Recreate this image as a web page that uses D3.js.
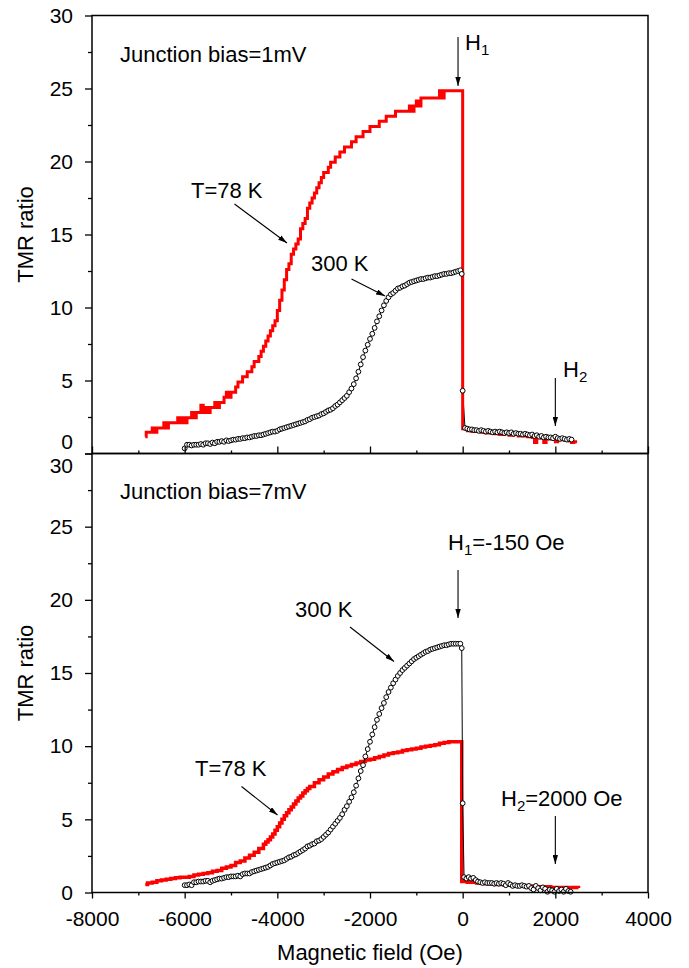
<!DOCTYPE html>
<html>
<head>
<meta charset="utf-8">
<script src="https://cdn.jsdelivr.net/npm/d3@7"></script>
<style>
  body { margin: 0; background: #fff; }
  svg { display: block; font-family: "Liberation Sans", Arial, sans-serif; }
</style>
</head>
<body>
<svg width="689" height="968"></svg>
<script>
// ---- data (field in Oe, TMR ratio) ----
var fieldTicks = [-8000, -6000, -4000, -2000, 0, 2000, 4000];
var fieldMinor = [-7000, -5000, -3000, -1000, 1000, 3000];
var tmrTicks = [0, 5, 10, 15, 20, 25, 30];
var tmrMinor = [2.5, 7.5, 12.5, 17.5, 22.5, 27.5];

// 1 mV, T = 78 K (red staircase)
var red1mV = [
  [-6850, 1.15], [-6830, 1.45], [-6750, 1.45], [-6700, 1.75], [-6650, 1.45], [-6600, 1.75],
  [-6550, 1.75], [-6500, 1.75], [-6450, 2.1], [-6400, 1.75], [-6350, 2.1], [-6300, 2.1],
  [-6250, 2.1], [-6200, 2.1], [-6150, 2.45], [-6100, 2.1], [-6050, 2.45], [-6000, 2.1],
  [-5950, 2.45], [-5900, 2.45], [-5850, 2.8], [-5800, 2.45], [-5750, 2.8], [-5700, 2.8],
  [-5650, 3.3], [-5600, 2.8], [-5550, 3.15], [-5500, 2.8], [-5450, 3.15], [-5400, 3.15],
  [-5350, 3.5], [-5300, 3.15], [-5250, 3.5], [-5200, 3.5], [-5150, 3.85], [-5100, 4.2],
  [-5050, 3.85], [-5000, 4.2], [-4950, 4.2], [-4900, 4.55], [-4850, 4.9], [-4800, 4.9],
  [-4750, 5.25], [-4700, 5.25], [-4650, 5.6], [-4600, 5.6], [-4550, 5.95], [-4500, 6.3],
  [-4450, 6.3], [-4400, 6.65], [-4350, 7.0], [-4300, 7.35], [-4250, 7.7], [-4200, 8.05],
  [-4150, 8.4], [-4100, 8.75], [-4050, 9.1], [-4000, 9.8], [-3950, 10.5], [-3900, 11.2],
  [-3850, 11.9], [-3800, 12.6], [-3750, 13.0], [-3700, 13.65], [-3650, 14.0], [-3600, 14.35],
  [-3550, 14.7], [-3500, 15.4], [-3450, 15.75], [-3400, 16.1], [-3350, 16.8], [-3300, 17.15],
  [-3250, 17.5], [-3200, 17.85], [-3150, 18.2], [-3100, 18.55], [-3050, 18.9], [-3000, 19.25],
  [-2950, 19.25], [-2900, 19.6], [-2850, 19.95], [-2800, 19.95], [-2750, 20.3], [-2700, 20.3],
  [-2650, 20.65], [-2600, 20.65], [-2550, 21.0], [-2500, 21.0], [-2450, 21.0], [-2400, 21.35],
  [-2350, 21.35], [-2300, 21.7], [-2250, 21.7], [-2200, 21.7], [-2150, 22.05], [-2100, 22.05],
  [-2050, 22.05], [-2000, 22.4], [-1950, 22.4], [-1900, 22.4], [-1850, 22.4], [-1800, 22.75],
  [-1750, 22.75], [-1700, 22.75], [-1650, 23.1], [-1600, 23.1], [-1550, 23.1], [-1500, 23.1],
  [-1450, 23.45], [-1400, 23.45], [-1350, 23.45], [-1300, 23.45], [-1250, 23.45], [-1200, 23.45],
  [-1150, 23.8], [-1100, 23.45], [-1050, 23.8], [-1000, 24.15], [-950, 23.8], [-900, 24.35],
  [-850, 24.35], [-800, 24.35], [-750, 24.35], [-700, 24.35], [-650, 24.35], [-600, 24.35],
  [-550, 24.35], [-500, 24.85], [-450, 24.35], [-400, 24.85], [-350, 24.85], [-300, 24.85],
  [-200, 24.85], [-100, 24.85], [0, 1.7], [100, 1.55], [200, 1.5], [300, 1.5], [400, 1.45],
  [500, 1.4], [600, 1.4], [700, 1.35], [800, 1.3], [900, 1.35], [1000, 1.25], [1100, 1.3],
  [1200, 1.2], [1300, 1.2], [1400, 1.15], [1500, 1.1], [1550, 0.75], [1600, 1.1], [1700, 1.05],
  [1750, 0.75], [1800, 1.0], [1900, 1.0], [2000, 0.8], [2050, 0.95], [2100, 0.95], [2200, 0.9],
  [2300, 0.85], [2350, 0.75], [2400, 0.8], [2470, 0.8]
];

// 1 mV, 300 K (open circles)
var open1mV = [
  [-6000, 0.35], [-5950, 0.6], [-5900, 0.6], [-5850, 0.55], [-5800, 0.6], [-5750, 0.6],
  [-5700, 0.6], [-5650, 0.65], [-5600, 0.6], [-5550, 0.7], [-5500, 0.7], [-5450, 0.65],
  [-5400, 0.75], [-5350, 0.7], [-5300, 0.8], [-5250, 0.8], [-5200, 0.85], [-5150, 0.8],
  [-5100, 0.9], [-5050, 0.85], [-5000, 0.9], [-4950, 0.95], [-4900, 0.95], [-4850, 1.0],
  [-4800, 1.0], [-4750, 1.05], [-4700, 1.05], [-4650, 1.1], [-4600, 1.1], [-4550, 1.15],
  [-4500, 1.2], [-4450, 1.2], [-4400, 1.25], [-4350, 1.25], [-4300, 1.3], [-4250, 1.35],
  [-4200, 1.4], [-4150, 1.45], [-4100, 1.5], [-4050, 1.5], [-4000, 1.55], [-3950, 1.65],
  [-3900, 1.7], [-3850, 1.75], [-3800, 1.8], [-3750, 1.85], [-3700, 1.9], [-3650, 1.95],
  [-3600, 2.0], [-3550, 2.05], [-3500, 2.1], [-3450, 2.15], [-3400, 2.2], [-3350, 2.3],
  [-3300, 2.35], [-3250, 2.45], [-3200, 2.5], [-3150, 2.55], [-3100, 2.6], [-3050, 2.7],
  [-3000, 2.75], [-2950, 2.85], [-2900, 2.95], [-2850, 3.0], [-2800, 3.1], [-2750, 3.25],
  [-2700, 3.35], [-2650, 3.5], [-2600, 3.65], [-2550, 3.8], [-2500, 3.95], [-2450, 4.2],
  [-2400, 4.45], [-2350, 4.75], [-2300, 5.15], [-2250, 5.6], [-2200, 6.1], [-2150, 6.6],
  [-2100, 7.05], [-2050, 7.45], [-2000, 7.85], [-1950, 8.2], [-1900, 8.6], [-1850, 9.05],
  [-1800, 9.4], [-1750, 9.8], [-1700, 10.15], [-1650, 10.45], [-1600, 10.7], [-1550, 10.9],
  [-1500, 11.0], [-1450, 11.15], [-1400, 11.3], [-1350, 11.35], [-1300, 11.45], [-1250, 11.5],
  [-1200, 11.6], [-1150, 11.7], [-1100, 11.75], [-1050, 11.8], [-1000, 11.85], [-950, 11.9],
  [-900, 11.95], [-850, 11.95], [-800, 12.0], [-750, 12.05], [-700, 12.05], [-650, 12.1],
  [-600, 12.15], [-550, 12.15], [-500, 12.2], [-450, 12.25], [-400, 12.3], [-350, 12.3],
  [-300, 12.35], [-250, 12.35], [-200, 12.4], [-150, 12.45], [-100, 12.5], [-50, 12.55],
  [-20, 12.3], [0, 4.3], [50, 1.75], [100, 1.7], [150, 1.65], [200, 1.65], [250, 1.6],
  [300, 1.6], [350, 1.55], [400, 1.6], [450, 1.55], [500, 1.5], [550, 1.55], [600, 1.5],
  [650, 1.45], [700, 1.5], [750, 1.45], [800, 1.5], [850, 1.45], [900, 1.4], [950, 1.45],
  [1000, 1.4], [1050, 1.45], [1100, 1.35], [1150, 1.4], [1200, 1.35], [1250, 1.35], [1300, 1.3],
  [1350, 1.35], [1400, 1.3], [1450, 1.25], [1500, 1.3], [1550, 1.2], [1600, 1.25], [1650, 1.15],
  [1700, 1.2], [1750, 1.1], [1800, 1.15], [1850, 1.1], [1900, 1.1], [1950, 1.05], [2000, 1.15],
  [2050, 1.05], [2100, 1.0], [2150, 1.05], [2200, 1.0], [2250, 0.95], [2300, 1.0], [2350, 0.95]
];

// 7 mV, T = 78 K (red)
var red7mV = [
  [-6850, 0.55], [-6800, 0.65], [-6700, 0.7], [-6600, 0.8], [-6500, 0.85], [-6400, 0.9],
  [-6300, 0.95], [-6200, 1.0], [-6100, 1.05], [-6000, 1.05], [-5900, 1.1], [-5800, 1.2],
  [-5700, 1.25], [-5600, 1.3], [-5500, 1.35], [-5400, 1.45], [-5300, 1.5], [-5200, 1.65],
  [-5100, 1.75], [-5000, 1.85], [-4900, 2.05], [-4800, 2.15], [-4700, 2.35], [-4600, 2.55],
  [-4500, 2.75], [-4400, 3.0], [-4300, 3.3], [-4250, 3.45], [-4200, 3.6], [-4150, 3.8],
  [-4100, 4.0], [-4050, 4.25], [-4000, 4.5], [-3950, 4.75], [-3900, 5.0], [-3850, 5.25],
  [-3800, 5.45], [-3750, 5.65], [-3700, 5.85], [-3650, 6.05], [-3600, 6.25], [-3550, 6.45],
  [-3500, 6.6], [-3450, 6.8], [-3400, 6.95], [-3350, 7.1], [-3300, 7.25], [-3200, 7.5],
  [-3100, 7.7], [-3000, 7.9], [-2900, 8.1], [-2800, 8.25], [-2700, 8.4], [-2600, 8.55],
  [-2500, 8.65], [-2400, 8.75], [-2300, 8.85], [-2200, 8.95], [-2100, 9.05], [-2000, 9.1],
  [-1900, 9.2], [-1800, 9.3], [-1700, 9.4], [-1600, 9.5], [-1500, 9.55], [-1400, 9.6],
  [-1300, 9.7], [-1200, 9.75], [-1100, 9.8], [-1000, 9.85], [-900, 9.95], [-800, 10.0],
  [-700, 10.05], [-600, 10.1], [-500, 10.2], [-400, 10.25], [-300, 10.3], [-200, 10.3],
  [-100, 10.3], [-20, 0.75], [100, 0.7], [300, 0.65], [500, 0.6], [700, 0.55], [900, 0.5],
  [1100, 0.45], [1300, 0.45], [1500, 0.4], [1700, 0.4], [1900, 0.35], [2100, 0.35],
  [2300, 0.35], [2500, 0.3]
];

// 7 mV, 300 K (open circles)
var open7mV = [
  [-6000, 0.5], [-5950, 0.5], [-5900, 0.55], [-5850, 0.5], [-5800, 0.7], [-5750, 0.7],
  [-5700, 0.75], [-5650, 0.75], [-5600, 0.75], [-5550, 0.8], [-5500, 0.8], [-5450, 0.7],
  [-5400, 0.8], [-5350, 0.85], [-5300, 0.9], [-5250, 0.95], [-5200, 0.95], [-5150, 1.0],
  [-5100, 1.05], [-5050, 1.05], [-5000, 1.1], [-4950, 1.1], [-4900, 1.1], [-4850, 1.15],
  [-4800, 1.1], [-4750, 1.25], [-4700, 1.3], [-4650, 1.3], [-4600, 1.3], [-4550, 1.4],
  [-4500, 1.45], [-4450, 1.5], [-4400, 1.55], [-4350, 1.6], [-4300, 1.65], [-4250, 1.7],
  [-4200, 1.75], [-4150, 1.85], [-4100, 1.95], [-4050, 2.0], [-4000, 2.05], [-3950, 2.1],
  [-3900, 2.15], [-3850, 2.2], [-3800, 2.3], [-3750, 2.4], [-3700, 2.45], [-3650, 2.55],
  [-3600, 2.6], [-3550, 2.7], [-3500, 2.8], [-3450, 2.9], [-3400, 3.0], [-3350, 3.15],
  [-3300, 3.2], [-3250, 3.3], [-3200, 3.35], [-3150, 3.5], [-3100, 3.55], [-3050, 3.65],
  [-3000, 3.8], [-2950, 3.95], [-2900, 4.1], [-2850, 4.3], [-2800, 4.5], [-2750, 4.7],
  [-2700, 4.9], [-2650, 5.1], [-2600, 5.35], [-2550, 5.65], [-2500, 5.9], [-2450, 6.2],
  [-2400, 6.5], [-2350, 6.85], [-2300, 7.3], [-2250, 7.8], [-2200, 8.3], [-2150, 8.7],
  [-2100, 9.3], [-2050, 9.8], [-2000, 10.3], [-1950, 10.8], [-1900, 11.3], [-1850, 11.8],
  [-1800, 12.2], [-1750, 12.6], [-1700, 12.95], [-1650, 13.35], [-1600, 13.7], [-1550, 14.0],
  [-1500, 14.3], [-1450, 14.55], [-1400, 14.8], [-1350, 15.0], [-1300, 15.2], [-1250, 15.35],
  [-1200, 15.5], [-1150, 15.65], [-1100, 15.8], [-1050, 15.95], [-1000, 16.05], [-950, 16.15],
  [-900, 16.25], [-850, 16.35], [-800, 16.45], [-750, 16.5], [-700, 16.6], [-650, 16.65],
  [-600, 16.7], [-550, 16.75], [-500, 16.8], [-450, 16.85], [-400, 16.9], [-350, 16.9],
  [-300, 16.95], [-250, 17.0], [-200, 17.0], [-150, 17.0], [-100, 17.0], [-50, 17.0],
  [-20, 16.7], [0, 6.1], [30, 1.05], [80, 0.95], [130, 1.05], [180, 0.95], [230, 1.0],
  [280, 0.85], [330, 0.75], [380, 0.7], [430, 0.65], [480, 0.7], [530, 0.65], [580, 0.65],
  [630, 0.65], [680, 0.6], [730, 0.65], [780, 0.6], [830, 0.65], [880, 0.6], [930, 0.5],
  [980, 0.65], [1030, 0.55], [1080, 0.45], [1130, 0.5], [1180, 0.45], [1230, 0.45], [1280, 0.5],
  [1330, 0.45], [1380, 0.4], [1430, 0.45], [1480, 0.3], [1530, 0.2], [1580, 0.45], [1630, 0.3],
  [1680, 0.15], [1730, 0.35], [1780, 0.25], [1830, 0.05], [1880, 0.2], [1930, 0.15], [1980, 0.05],
  [2030, 0.25], [2080, 0.1], [2130, 0.2], [2180, 0.05], [2230, 0.25], [2280, 0.1], [2330, 0.05]
];

// ---- layout ----
var svg = d3.select('svg');
var left = 92, right = 648;
var topPanel = { y0: 453.5, y1: 15.5 }, botPanel = { y0: 892.5, y1: 453.5 };

svg.append('rect').attr('width', 689).attr('height', 968).attr('fill', '#fff');

var x = d3.scaleLinear().domain([-8000, 4000]).range([left, right]);
var yTop = d3.scaleLinear().domain([0, 30]).range([topPanel.y0, topPanel.y1]);
var yBot = d3.scaleLinear().domain([0, 30]).range([botPanel.y0, botPanel.y1]);

// plain hyphen for negatives, as in the original figure
var plainNum = function(d) { return String(d); };

var defs = svg.append('defs');
defs.append('marker')
  .attr('id', 'arrow')
  .attr('viewBox', '0 0 10 6')
  .attr('refX', 10).attr('refY', 3)
  .attr('markerWidth', 9).attr('markerHeight', 5.5)
  .attr('markerUnits', 'userSpaceOnUse')
  .attr('orient', 'auto')
  .append('path').attr('d', 'M0,0L10,3L0,6Z').attr('fill', '#000');

function styleAxis(g, size) {
  g.select('.domain').remove();
  g.attr('font-family', null).attr('font-size', size);
  g.selectAll('line').attr('stroke', '#000').attr('stroke-width', 1.3);
  g.selectAll('text').attr('fill', '#000');
}

function drawYAxis(y) {
  var g = svg.append('g').attr('transform', 'translate(' + left + ',0)');
  g.call(d3.axisLeft(y).tickValues(tmrTicks).tickSize(7).tickPadding(12).tickFormat(plainNum))
    .call(styleAxis, 21);
  svg.append('g').attr('transform', 'translate(' + left + ',0)')
    .call(d3.axisLeft(y).tickValues(tmrMinor).tickSize(4).tickFormat(''))
    .call(styleAxis, 21);
  return g;
}

function drawFrame(p) {
  svg.append('rect')
    .attr('x', left).attr('y', p.y1)
    .attr('width', right - left).attr('height', p.y0 - p.y1)
    .attr('fill', 'none').attr('stroke', '#000').attr('stroke-width', 1.5);
}

var lineGen = function(y, curve) {
  return d3.line().x(function(d) { return x(d[0]); }).y(function(d) { return y(d[1]); }).curve(curve);
};

function drawRed(data, y, curve, w) {
  svg.append('path').datum(data)
    .attr('d', lineGen(y, curve))
    .attr('fill', 'none').attr('stroke', '#ff0000').attr('stroke-width', w)
    .attr('stroke-linejoin', 'miter');
}

function drawOpenLine(data, y) {
  svg.append('path').datum(data)
    .attr('d', lineGen(y, d3.curveLinear))
    .attr('fill', 'none').attr('stroke', '#000').attr('stroke-width', 1);
}

function drawOpenCircles(data, y) {
  svg.append('g').selectAll('circle').data(data).enter().append('circle')
    .attr('cx', function(d) { return x(d[0]); })
    .attr('cy', function(d) { return y(d[1]); })
    .attr('r', 2.4)
    .attr('fill', '#fff').attr('stroke', '#000').attr('stroke-width', 1);
}

function label(txt, lx, ly, sub, rest) {
  var t = svg.append('text').attr('x', lx).attr('y', ly).attr('font-size', 22).attr('fill', '#000').text(txt);
  if (sub) {
    t.append('tspan').attr('font-size', 15).attr('dy', 5).text(sub);
    if (rest) t.append('tspan').attr('dy', -5).text(rest);
  }
  return t;
}

function arrow(x1, y1, x2, y2) {
  svg.append('line')
    .attr('x1', x1).attr('y1', y1).attr('x2', x2).attr('y2', y2)
    .attr('stroke', '#000').attr('stroke-width', 1.1)
    .attr('marker-end', 'url(#arrow)');
}

// ---- top panel: 1 mV ----
drawOpenLine(open1mV, yTop);
drawRed(red1mV, yTop, d3.curveStepAfter, 3);
drawOpenCircles(open1mV, yTop);

// ---- bottom panel: 7 mV ----
drawRed(red7mV, yBot, d3.curveStepAfter, 3.5);
drawOpenLine(open7mV, yBot);
drawOpenCircles(open7mV, yBot);

drawFrame(topPanel);
drawFrame(botPanel);

// y axes; nudge the touching 0 / 30 labels apart
var yAxTop = drawYAxis(yTop);
yAxTop.selectAll('.tick').filter(function(d) { return d === 0; }).select('text').attr('y', -12);
var yAxBot = drawYAxis(yBot);
yAxBot.selectAll('.tick').filter(function(d) { return d === 30; }).select('text').attr('y', 12);

// x axis at bottom (outward ticks, labels)
svg.append('g').attr('transform', 'translate(0,' + botPanel.y0 + ')')
  .call(d3.axisBottom(x).tickValues(fieldTicks).tickSize(6).tickPadding(13).tickFormat(plainNum))
  .call(styleAxis, 21);
svg.append('g').attr('transform', 'translate(0,' + botPanel.y0 + ')')
  .call(d3.axisBottom(x).tickValues(fieldMinor).tickSize(3).tickFormat(''))
  .call(styleAxis, 21);

// ticks at the shared border between the panels
svg.append('g').attr('transform', 'translate(0,' + topPanel.y0 + ')')
  .call(d3.axisTop(x).tickValues(fieldTicks).tickSize(7).tickFormat(''))
  .call(styleAxis, 21);
svg.append('g').attr('transform', 'translate(0,' + topPanel.y0 + ')')
  .call(d3.axisTop(x).tickValues(fieldMinor).tickSize(3).tickFormat(''))
  .call(styleAxis, 21);

// axis titles
svg.append('text').attr('transform', 'translate(33,' + (topPanel.y0 + topPanel.y1) / 2 + ') rotate(-90)')
  .attr('text-anchor', 'middle').attr('font-size', 22).text('TMR ratio');
svg.append('text').attr('transform', 'translate(33,' + (botPanel.y0 + botPanel.y1) / 2 + ') rotate(-90)')
  .attr('text-anchor', 'middle').attr('font-size', 22).text('TMR ratio');
svg.append('text').attr('x', (left + right) / 2).attr('y', 960)
  .attr('text-anchor', 'middle').attr('font-size', 22).text('Magnetic field (Oe)');

// ---- annotations, top ----
label('Junction bias=1mV', 120, 62);
label('H', 465, 50, '1');
arrow(x(-100), 37, x(-100), 86);
label('T=78 K', 191, 197.5);
arrow(234.5, 204, 287, 243);
label('300 K', 311, 271);
arrow(351.5, 279, 385, 296);
label('H', 563, 377, '2');
arrow(x(2000), 378, x(2000), 426);

// ---- annotations, bottom ----
label('Junction bias=7mV', 120, 499);
label('H', 448, 550, '1', '=-150 Oe');
arrow(x(-100), 570, x(-100), 618);
label('300 K', 295, 617);
arrow(350, 627, 394, 661.5);
label('T=78 K', 195, 776);
arrow(241.5, 786.5, 277.5, 815);
label('H', 501, 806, '2', '=2000 Oe');
arrow(x(2000), 816, x(2000), 864);
</script>
</body>
</html>
